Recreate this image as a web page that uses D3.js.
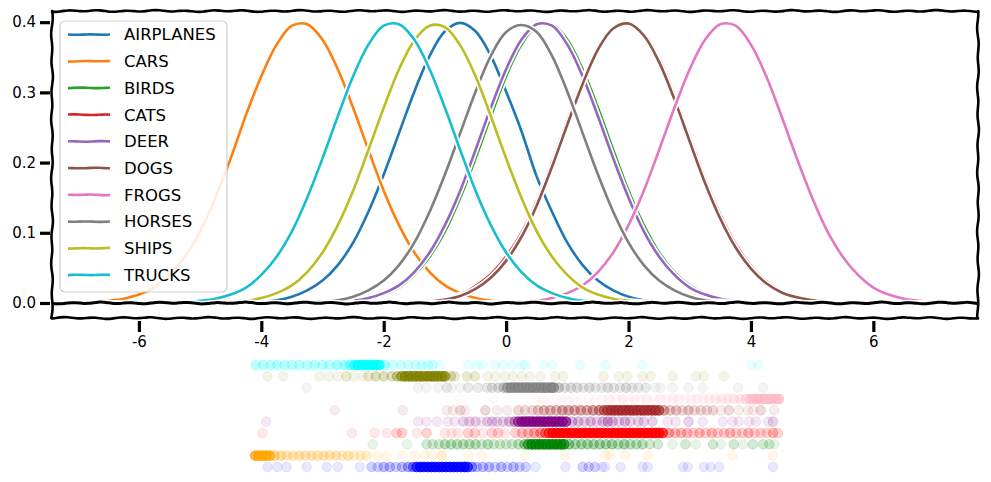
<!DOCTYPE html>
<html><head><meta charset="utf-8">
<script src="https://cdn.jsdelivr.net/npm/d3@7"></script>
<style>body{margin:0;background:#fff}svg{display:block}</style>
</head><body>
<svg id="c" width="991" height="482"></svg>
<script>
// ---------- DATA ----------
const classes = ["airplanes","cars","birds","cats","deer","dogs","frogs","horses","ships","trucks"];
const labels = ["AIRPLANES","CARS","BIRDS","CATS","DEER","DOGS","FROGS","HORSES","SHIPS","TRUCKS"];
const lineColors = ["#1f77b4","#ff7f0e","#2ca02c","#d62728","#9467bd","#8c564b","#e377c2","#7f7f7f","#bcbd22","#17becf"];
const stripColors = ["blue","orange","green","red","purple","brown","pink","gray","olive","cyan"];
const xTicks = [-6,-4,-2,0,2,4,6];
const xTickLabels = ["-6","-4","-2","0","2","4","6"];
const yTicks = [0,0.1,0.2,0.3,0.4];
const yTickLabels = ["0.0","0.1","0.2","0.3","0.4"];

// density curves (top panel), sampled on gridX
const gridX = [-7,-6.75,-6.5,-6.25,-6,-5.75,-5.5,-5.25,-5,-4.75,-4.5,-4.25,-4,-3.75,-3.5,-3.25,-3,-2.75,-2.5,-2.25,-2,-1.75,-1.5,-1.25,-1,-0.75,-0.5,-0.25,0,0.25,0.5,0.75,1,1.25,1.5,1.75,2,2.25,2.5,2.75,3,3.25,3.5,3.75,4,4.25,4.5,4.75,5,5.25,5.5,5.75,6,6.25,6.5,6.75,7,7.25,7.5];
const densAirplanes = [0,0,0,0,0,0,0,0,0,0,0,.001,.002,.004,.009,.018,.032,.054,.086,.130,.183,.242,.301,.352,.387,.399,.387,.352,.301,.245,.180,.130,.086,.054,.032,.018,.009,.004,.002,.001,0,0,0,0,0,0,0,0,0,0,0,0,0,0,0,0,0,0,0];
const densCars = [.001,.001,.003,.006,.012,.022,.040,.066,.102,.150,.206,.268,.323,.368,.395,.397,.375,.333,.278,.218,.160,.111,.072,.044,.025,.014,.007,.003,.002,0,0,0,0,0,0,0,0,0,0,0,0,0,0,0,0,0,0,0,0,0,0,0,0,0,0,0,0,0,0];
const densBirds = [0,0,0,0,0,0,0,0,0,0,0,0,0,0,0,0,.001,.001,.003,.006,.012,.022,.040,.066,.102,.150,.206,.266,.323,.368,.395,.397,.375,.333,.278,.218,.160,.111,.072,.044,.025,.014,.007,.003,.002,0,0,0,0,0,0,0,0,0,0,0,0,0,0];
const densCats = [0,0,0,0,0,0,0,0,0,0,0,0,0,0,0,0,0,0,0,0,0,0,.001,.002,.006,.012,.024,.041,.066,.100,.145,.200,.260,.317,.364,.392,.398,.384,.348,.296,.236,.177,.126,.084,.053,.031,.017,.009,.004,.002,0,0,0,0,0,0,0,0,0];
const densDeer = [0,0,0,0,0,0,0,0,0,0,0,0,0,0,0,0,.001,.002,.003,.007,.014,.025,.044,.072,.111,.160,.218,.278,.333,.375,.397,.395,.368,.323,.266,.206,.150,.102,.066,.040,.022,.012,.006,.003,.001,0,0,0,0,0,0,0,0,0,0,0,0,0,0];
const densDogs = [0,0,0,0,0,0,0,0,0,0,0,0,0,0,0,0,0,0,0,0,0,0,.001,.002,.005,.010,.020,.036,.060,.094,.139,.194,.254,.312,.361,.391,.398,.381,.343,.290,.230,.171,.120,.079,.049,.028,.015,.008,.004,.002,0,0,0,0,0,0,0,0,0];
const densFrogs = [0,0,0,0,0,0,0,0,0,0,0,0,0,0,0,0,0,0,0,0,0,0,0,0,0,0,0,0,.001,.002,.003,.007,.014,.025,.044,.072,.111,.160,.218,.278,.333,.375,.397,.395,.368,.323,.266,.206,.150,.102,.066,.040,.022,.012,.006,.003,.001,0,0];
const densHorses = [0,0,0,0,0,0,0,0,0,0,0,0,0,0,0,.001,.002,.004,.009,.018,.032,.054,.086,.130,.183,.242,.301,.352,.386,.396,.386,.352,.301,.242,.183,.130,.086,.054,.032,.018,.009,.004,.002,.001,0,0,0,0,0,0,0,0,0,0,0,0,0,0,0];
const densShips = [0,0,0,0,0,0,0,0,0,.001,.002,.003,.007,.014,.025,.044,.072,.111,.160,.218,.278,.333,.374,.395,.393,.367,.323,.266,.206,.150,.102,.066,.040,.022,.012,.006,.003,.001,0,0,0,0,0,0,0,0,0,0,0,0,0,0,0,0,0,0,0,0,0];
const densTrucks = [0,0,0,0,0,0,.001,.001,.003,.006,.012,.022,.040,.066,.102,.150,.206,.266,.323,.368,.395,.397,.375,.333,.278,.218,.160,.111,.072,.044,.025,.014,.007,.003,.002,0,0,0,0,0,0,0,0,0,0,0,0,0,0,0,0,0,0,0,0,0,0,0,0];

// strip values (bottom panel): [value, number of overlapping points]
const stripAirplanes = [[-3.9,1],[-3.74,1],[-3.59,1],[-3.26,1],[-2.93,1],[-2.75,1],[-2.39,1],[-2.2,2],[-2.1,2],[-2.0,3],[-1.9,3],[-1.8,2],[-1.7,3],[-1.6,4],[-1.52,6],[-1.46,12],[-1.4,14],[-1.34,14],[-1.28,14],[-1.22,14],[-1.16,14],[-1.1,14],[-1.04,14],[-0.98,14],[-0.92,14],[-0.86,14],[-0.8,14],[-0.74,14],[-0.68,14],[-0.63,12],[-0.56,5],[-0.48,3],[-0.38,3],[-0.28,3],[-0.18,2],[-0.08,3],[0.02,2],[0.12,3],[0.22,2],[0.32,2],[0.48,1],[0.97,1],[1.25,2],[1.35,2],[1.45,2],[1.57,1],[1.62,1],[1.87,1],[2.23,1],[2.31,1],[2.89,1],[2.97,1],[3.23,1],[3.34,1],[3.48,1],[4.36,1]];
const stripCars = [[-4.1,14],[-4.04,14],[-3.98,14],[-3.92,14],[-3.86,12],[-3.78,5],[-3.68,4],[-3.58,3],[-3.48,3],[-3.38,3],[-3.28,3],[-3.18,3],[-3.08,3],[-2.98,3],[-2.88,3],[-2.78,3],[-2.68,2],[-2.58,3],[-2.48,2],[-2.38,2],[-2.28,2],[-2.1,1],[-1.95,1],[-1.7,1],[-1.49,1],[-1.33,1],[-1.21,1],[-1.05,2],[-0.62,1],[-0.39,1],[0.31,1],[0.97,1],[1.62,1],[1.7,1],[1.95,1],[2.31,1],[3.7,1],[4.36,1]];
const stripBirds = [[-2.18,1],[-1.62,1],[-1.3,2],[-1.2,2],[-1.1,2],[-1.0,3],[-0.9,3],[-0.8,3],[-0.7,3],[-0.6,3],[-0.5,3],[-0.4,2],[-0.3,3],[-0.2,2],[-0.1,2],[0.0,2],[0.1,2],[0.2,3],[0.3,5],[0.36,10],[0.42,14],[0.48,14],[0.54,14],[0.6,14],[0.66,14],[0.72,14],[0.78,14],[0.84,14],[0.9,14],[0.95,12],[1.03,5],[1.13,4],[1.23,4],[1.33,4],[1.43,4],[1.53,4],[1.63,4],[1.73,4],[1.83,3],[1.93,4],[2.03,3],[2.13,3],[2.23,3],[2.35,2],[2.48,2],[2.72,1],[2.93,2],[3.1,1],[3.38,2],[3.51,1],[3.72,2],[3.87,1],[4.03,2],[4.2,2],[4.3,2],[4.38,1]];
const stripCats = [[-3.98,1],[-2.52,1],[-2.15,1],[-1.95,1],[-1.79,2],[-1.7,2],[-1.46,1],[-1.3,2],[-1.0,1],[-0.89,1],[-0.79,1],[-0.62,2],[-0.51,2],[-0.38,1],[-0.23,2],[-0.13,2],[-0.02,1],[0.15,2],[0.26,3],[0.36,3],[0.46,4],[0.56,5],[0.64,7],[0.7,10],[0.76,14],[0.82,14],[0.88,14],[0.94,14],[1.0,14],[1.06,14],[1.12,14],[1.18,14],[1.24,14],[1.3,14],[1.36,14],[1.42,14],[1.48,14],[1.54,14],[1.6,14],[1.66,14],[1.72,14],[1.78,14],[1.84,14],[1.9,14],[1.96,14],[2.02,14],[2.08,14],[2.14,14],[2.2,14],[2.26,14],[2.32,14],[2.38,14],[2.44,14],[2.5,14],[2.56,12],[2.66,4],[2.76,3],[2.86,3],[2.96,3],[3.06,2],[3.16,3],[3.26,2],[3.36,3],[3.46,2],[3.56,2],[3.66,3],[3.76,2],[3.86,2],[3.96,3],[4.06,2],[4.16,2],[4.26,2],[4.36,3],[4.44,2]];
const stripDeer = [[-3.92,1],[-1.44,1],[-1.3,1],[-1.13,1],[-0.95,1],[-0.84,1],[-0.7,2],[-0.6,2],[-0.5,2],[-0.4,1],[-0.31,2],[-0.23,2],[-0.15,2],[-0.05,2],[0.05,3],[0.14,5],[0.2,10],[0.26,14],[0.32,14],[0.38,14],[0.44,14],[0.5,14],[0.56,14],[0.62,14],[0.68,14],[0.74,14],[0.8,14],[0.86,14],[0.92,14],[0.98,12],[1.08,3],[1.18,3],[1.28,2],[1.38,3],[1.48,2],[1.58,3],[1.66,4],[1.74,3],[1.84,2],[1.94,3],[2.03,2],[2.16,2],[2.25,2],[2.39,2],[2.64,1],[2.77,1],[2.98,2],[3.21,1],[3.54,1],[3.7,1],[3.8,1],[3.97,1],[4.08,1],[4.28,1],[4.36,2]];
const stripDogs = [[-2.8,1],[-1.69,1],[-0.97,1],[-0.87,1],[-0.75,2],[-0.67,1],[-0.34,2],[-0.15,1],[0.02,1],[0.2,2],[0.31,2],[0.43,2],[0.52,3],[0.62,4],[0.72,4],[0.82,4],[0.92,5],[1.02,5],[1.12,5],[1.22,5],[1.32,5],[1.42,6],[1.52,7],[1.6,9],[1.66,12],[1.72,14],[1.78,14],[1.84,14],[1.9,14],[1.96,14],[2.02,14],[2.08,14],[2.14,14],[2.2,14],[2.26,14],[2.32,14],[2.38,14],[2.44,14],[2.5,12],[2.58,5],[2.68,3],[2.78,3],[2.88,2],[2.98,3],[3.08,2],[3.18,2],[3.28,2],[3.38,2],[3.51,1],[3.64,2],[3.8,1],[3.95,1],[4.03,1],[4.16,2],[4.38,1]];
const stripFrogs = [[-0.75,1],[-0.21,1],[0.5,1],[0.6,1],[0.68,1],[0.83,1],[0.92,1],[1.0,1],[1.1,1],[1.22,1],[1.35,1],[1.46,1],[1.57,1],[1.68,2],[1.8,1],[1.9,2],[2.0,1],[2.1,2],[2.2,1],[2.3,2],[2.42,1],[2.52,2],[2.62,1],[2.72,2],[2.82,2],[2.92,1],[3.02,2],[3.12,2],[3.22,2],[3.32,2],[3.42,3],[3.52,3],[3.62,3],[3.72,4],[3.82,4],[3.92,6],[3.99,10],[4.05,14],[4.11,14],[4.17,14],[4.23,14],[4.29,14],[4.35,14],[4.41,14],[4.46,12]];
const stripHorses = [[-3.26,1],[-1.44,1],[-1.3,1],[-1.11,1],[-0.97,2],[-0.89,1],[-0.75,1],[-0.62,2],[-0.46,2],[-0.31,2],[-0.23,3],[-0.13,3],[-0.04,5],[0.02,10],[0.08,14],[0.14,14],[0.2,14],[0.26,14],[0.32,14],[0.38,14],[0.44,14],[0.5,14],[0.56,14],[0.62,14],[0.68,14],[0.74,14],[0.78,12],[0.86,5],[0.96,3],[1.06,3],[1.16,3],[1.26,2],[1.36,3],[1.46,2],[1.56,2],[1.66,3],[1.76,2],[1.86,2],[1.96,3],[2.06,2],[2.16,2],[2.28,2],[2.44,1],[2.52,1],[2.72,1],[2.98,1],[3.21,1],[3.79,1],[4.2,1]];
const stripShips = [[-3.9,1],[-3.64,1],[-3.05,1],[-2.89,1],[-2.75,1],[-2.61,2],[-2.49,1],[-2.34,1],[-2.25,2],[-2.13,3],[-2.0,3],[-1.87,3],[-1.78,5],[-1.71,10],[-1.65,14],[-1.59,14],[-1.53,14],[-1.47,14],[-1.41,14],[-1.35,14],[-1.29,14],[-1.23,14],[-1.17,14],[-1.11,14],[-1.05,14],[-1.0,12],[-0.9,3],[-0.84,2],[-0.64,2],[-0.51,2],[-0.3,1],[-0.18,1],[-0.02,1],[0.11,1],[0.26,1],[0.39,1],[0.56,1],[0.8,1],[0.93,1],[1.59,1],[1.84,1],[1.98,1],[2.23,1],[2.36,1],[2.72,1],[3.1,1],[3.23,1],[3.56,1]];
const stripTrucks = [[-4.09,3],[-3.97,3],[-3.85,3],[-3.74,3],[-3.62,3],[-3.5,3],[-3.38,3],[-3.25,3],[-3.13,3],[-3.0,3],[-2.89,3],[-2.76,4],[-2.64,4],[-2.55,6],[-2.48,10],[-2.42,14],[-2.36,14],[-2.3,14],[-2.24,14],[-2.18,14],[-2.12,14],[-2.07,12],[-1.98,4],[-1.85,2],[-1.72,2],[-1.6,2],[-1.48,2],[-1.38,2],[-1.28,2],[-1.2,2],[-1.08,1],[-0.62,1],[-0.48,1],[-0.38,1],[-0.18,1],[-0.05,1],[0.1,1],[0.26,1],[0.31,1],[0.61,1],[0.75,1],[1.21,1],[1.62,1],[2.23,1],[4.0,1],[4.13,1]];

const densities = [densAirplanes,densCars,densBirds,densCats,densDeer,densDogs,densFrogs,densHorses,densShips,densTrucks];
const strips = [stripAirplanes,stripCars,stripBirds,stripCats,stripDeer,stripDogs,stripFrogs,stripHorses,stripShips,stripTrucks];

// ---------- DRAW ----------
const FONT = "'DejaVu Sans', sans-serif";
const svg = d3.select("#c");
const L = 52, R = 978, T = 11, B = 318;
const x = d3.scaleLinear().domain([-7.42, 7.71]).range([L, R]);
const y = d3.scaleLinear().domain([-0.0214, 0.4145]).range([B, 12]);

// hand-drawn looking straight segment (deterministic waviness)
function wavy(x1,y1,x2,y2,amp,seed){
  const len = Math.hypot(x2-x1,y2-y1), n = Math.max(2, Math.round(len/4));
  const nx = -(y2-y1)/len, ny = (x2-x1)/len;
  const pts = d3.range(n+1).map(i=>{
    const t=i/n, s=t*len;
    const off = amp*(0.65*Math.sin(s/4.6+seed)+0.35*Math.sin(s/11.3+seed*1.7));
    return [x1+(x2-x1)*t+nx*off, y1+(y2-y1)*t+ny*off];
  });
  return d3.line().curve(d3.curveBasis)(pts);
}

// curves
const line = d3.line().x((d,i)=>x(gridX[i])).y(d=>y(d)).curve(d3.curveCatmullRom.alpha(0.5));
const gc = svg.append("g");
densities.forEach((s,k)=>{
  gc.append("path").attr("d",line(s)).attr("fill","none").attr("stroke","#fff")
    .attr("stroke-width",6).attr("stroke-linejoin","round").attr("stroke-linecap","round");
  gc.append("path").attr("d",line(s)).attr("fill","none").attr("stroke",lineColors[k])
    .attr("stroke-width",2.6).attr("stroke-linejoin","round").attr("stroke-linecap","round");
});

// zero line
svg.append("path").attr("d",wavy(L,y(0),R,y(0),1.0,0.3)).attr("fill","none").attr("stroke","#fff").attr("stroke-width",6);
svg.append("path").attr("d",wavy(L,y(0),R,y(0),1.0,0.3)).attr("fill","none").attr("stroke","#000").attr("stroke-width",3);

// spines
const spines = [[L,T,R,T,1],[L,B,R,B,2],[L,T,L,B,3],[R,T,R,B,4]];
spines.forEach(s=>{
  svg.append("path").attr("d",wavy(s[0],s[1],s[2],s[3],1.0,s[4])).attr("fill","none")
    .attr("stroke","#000").attr("stroke-width",2.6).attr("stroke-linecap","round");
});

// axes
const yAxis = d3.axisLeft(y).tickValues(yTicks).tickFormat((d,i)=>yTickLabels[i]).tickSize(10).tickPadding(4);
const gy = svg.append("g").attr("transform",`translate(${L-2},0)`).call(yAxis);
gy.select(".domain").remove();
gy.selectAll(".tick line").attr("stroke","#000").attr("stroke-width",3.2);
gy.selectAll(".tick text").attr("font-family",FONT).attr("font-size",15).attr("fill","#000");

const xAxis = d3.axisBottom(x).tickValues(xTicks).tickFormat((d,i)=>xTickLabels[i]).tickSize(11).tickPadding(4);
const gx = svg.append("g").attr("transform",`translate(0,${B+3})`).call(xAxis);
gx.select(".domain").remove();
gx.selectAll(".tick line").attr("stroke","#000").attr("stroke-width",3.2);
gx.selectAll(".tick text").attr("font-family",FONT).attr("font-size",15).attr("fill","#000");

// legend
const lg = svg.append("g");
lg.append("rect").attr("x",60).attr("y",21).attr("width",167).attr("height",271).attr("rx",5)
  .attr("fill","#fff").attr("fill-opacity",0.85).attr("stroke","#cfcfcf").attr("stroke-width",1.2);
const rowY = d3.scalePoint().domain(classes).range([34.5, 275]);
classes.forEach((c,k)=>{
  const yy = rowY(c);
  lg.append("path").attr("d",wavy(68,yy,110,yy,0.4,k)).attr("stroke",lineColors[k]).attr("stroke-width",2.6).attr("fill","none");
  lg.append("text").attr("x",124).attr("y",yy).attr("dy","0.36em").attr("font-family",FONT)
    .attr("font-size",16.5).attr("fill","#000").text(labels[k]);
});

// bottom strip panel
const stripY = d3.scalePoint().domain(classes).range([467, 365]);
const gs = svg.append("g");
strips.forEach((pairs,k)=>{
  const vals = pairs.flatMap(([v,n])=>d3.range(n).map(()=>v));
  gs.append("g").selectAll("circle").data(vals).join("circle")
    .attr("cx",d=>x(d)).attr("cy",stripY(classes[k])).attr("r",4.8)
    .attr("fill",stripColors[k]).attr("fill-opacity",0.09)
    .attr("stroke",stripColors[k]).attr("stroke-opacity",0.08).attr("stroke-width",1);
});
</script>
</body></html>
